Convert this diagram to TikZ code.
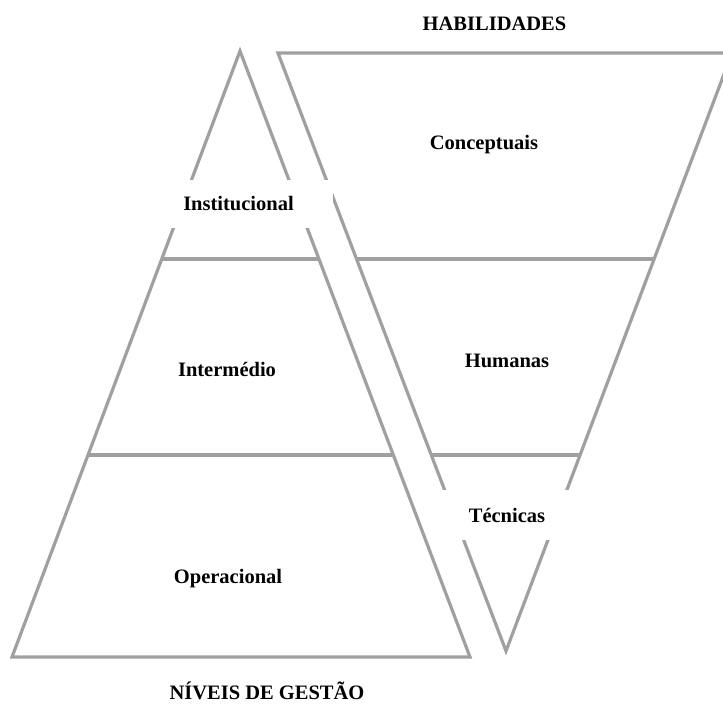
\documentclass[tikz,border=0pt]{standalone}
\usepackage{fontspec}
\setmainfont{Liberation Serif}
\usetikzlibrary{calc}
\definecolor{edgegray}{RGB}{160,160,160}
\tikzset{
  edge/.style={draw=edgegray, line width=3.2pt, line join=miter},
  lbl/.style={font=\fontsize{20.5}{24}\selectfont\bfseries, inner sep=0pt, anchor=base},
  cover/.style={fill=white, inner sep=0pt, font=\fontsize{20.5}{24}\selectfont\bfseries}
}
\begin{document}
\begin{tikzpicture}[x=1pt, y=-1pt]
  \useasboundingbox (0,0) rectangle (723,705);
  \clip (0,0) rectangle (723,705);

  % management-level pyramid
  \coordinate (pApex) at (240,51);
  \coordinate (pBL) at (12,657);
  \coordinate (pBR) at (470,657);
  % inverted skills triangle
  \coordinate (sTL) at (278,53);
  \coordinate (sTR) at (732,53);
  \coordinate (sTip) at (506,651);

  \path[edge] (pApex) -- (pBR) -- (pBL) -- cycle;
  \path[edge] (sTL) -- (sTR) -- (sTip) -- cycle;

  % level dividers
  \coordinate (p1L) at (162,259);  \coordinate (p1R) at (318,259);
  \coordinate (p2L) at (88,455);   \coordinate (p2R) at (392,455);
  \coordinate (s1L) at (356,259);  \coordinate (s1R) at (654,259);
  \coordinate (s2L) at (431,455);  \coordinate (s2R) at (580,455);
  \path[edge] (p1L) -- (p1R);
  \path[edge] (p2L) -- (p2R);
  \path[edge] (s1L) -- (s1R);
  \path[edge] (s2L) -- (s2R);

  % labels placed over white panels
  \node[cover, minimum width=189pt, minimum height=48pt] (inst) at (238.5,204) {Institucional};
  \node[cover, minimum width=150pt, minimum height=50pt] (tec) at (507,515) {Técnicas};

  \node[lbl] (hab) at (494.5,30) {HABILIDADES};
  \node[lbl] (conc) at (484,149) {Conceptuais};
  \node[lbl] (inter) at (227,376) {Intermédio};
  \node[lbl] (hum) at (507,367) {Humanas};
  \node[lbl] (oper) at (228,583) {Operacional};
  \node[lbl] (niv) at (267,699) {NÍVEIS DE GESTÃO};
\end{tikzpicture}
\end{document}
